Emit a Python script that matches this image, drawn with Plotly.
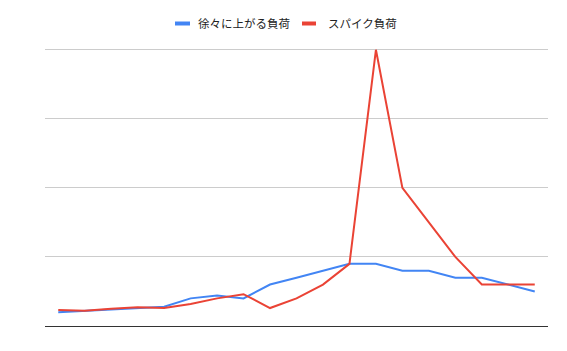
import plotly.graph_objects as go

x_idx = list(range(19))
gradual = [20, 22, 24, 26, 28, 40, 44, 40, 60, 70, 80, 90, 90, 80, 80, 70, 70, 60, 50]
spike = [23, 22, 25, 27, 26, 32, 40, 46, 26, 40, 60, 90, 400, 200, 150, 100, 60, 60, 60]
names = ["徐々に上がる負荷", "スパイク負荷"]
colors = ["#4285F4", "#EA4335"]
y_ticks = [0, 100, 200, 300, 400]

fig = go.Figure()
for vals, name, col in zip([gradual, spike], names, colors):
    fig.add_trace(go.Scatter(x=x_idx, y=vals, mode="lines", name=name,
                             line=dict(color=col, width=2), showlegend=False))

PH = 279
# manual legend (short thick swatches as in reference)
legend_items = [(175, 190, 196), (302, 316, 326)]
for (x0, x1, tx), name, col in zip(legend_items, names, colors):
    fig.add_shape(type="rect", xref="paper", yref="paper",
                  x0=(x0 - 45) / 503, x1=(x1 - 45) / 503,
                  y0=(326 - 25.5) / PH, y1=(326 - 21.5) / PH,
                  fillcolor=col, line=dict(width=0))
    fig.add_annotation(text=name, xref="paper", yref="paper",
                       x=(tx - 45) / 503, y=(326 - 24) / PH,
                       xanchor="left", yanchor="middle", showarrow=False,
                       font=dict(size=11.5, color="#222222"))

fig.update_layout(
    width=567, height=351,
    margin=dict(l=45, r=19, t=47, b=25),
    paper_bgcolor="white", plot_bgcolor="white",
    font=dict(family="Roboto, Noto Sans CJK JP, sans-serif", size=12, color="#222222"),
    xaxis=dict(range=[-0.5, 18.5], showgrid=False, zeroline=False,
               showticklabels=False, ticks="", showline=True,
               linecolor="#333333", linewidth=1),
    yaxis=dict(range=[0, 404], tickvals=y_ticks, showticklabels=False,
               showgrid=True, gridcolor="#cccccc", gridwidth=1,
               zeroline=False, ticks=""),
)

fig.write_html("out.html")
